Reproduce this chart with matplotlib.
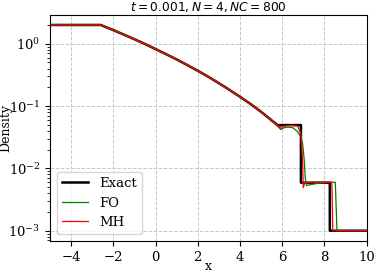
import matplotlib
matplotlib.use('Agg')
import matplotlib.pyplot as plt

plt.rcParams['font.family'] = 'serif'
plt.rcParams['font.size'] = 9.5

# rarefaction fan (shared by all three curves)
rare_x = [-5, -2.6, -2, -1.5, -1, -0.5, 0, 0.5, 1, 1.5, 2, 2.5, 3, 3.5, 4, 4.5, 5, 5.5]
rare_rho = [2.0, 2.0, 1.65, 1.40, 1.18, 0.99, 0.82, 0.68, 0.56, 0.455, 0.368, 0.295,
            0.233, 0.182, 0.141, 0.108, 0.081, 0.059]

# exact solution past the fan
exact_x = [5.86, 5.86, 6.89, 6.89, 8.26, 8.26, 10]
exact_rho = [0.047, 0.0495, 0.0495, 0.0059, 0.0059, 0.001, 0.001]

# first order scheme
fo_x = [5.94, 6.1, 6.26, 6.5, 6.73, 6.89, 6.97, 7.05, 7.09, 7.15, 7.6, 8.2, 8.52, 8.6, 10]
fo_rho = [0.042, 0.045, 0.046, 0.045, 0.039, 0.032, 0.025, 0.0134, 0.0072, 0.0053,
          0.0057, 0.006, 0.006, 0.001, 0.001]

# MH scheme
mh_x = [5.94, 6.1, 6.4, 6.73, 6.89, 6.97, 7.0, 7.07, 7.5, 8.36, 8.40, 10]
mh_rho = [0.0437, 0.048, 0.049, 0.048, 0.036, 0.0135, 0.0049, 0.0059, 0.006, 0.006,
          0.001, 0.001]

x_ticks = [-4, -2, 0, 2, 4, 6, 8, 10]

fig = plt.figure(figsize=(3.74, 2.72), dpi=100)
ax = fig.add_axes([0.134, 0.114, 0.846, 0.832])

ax.plot(rare_x + exact_x, rare_rho + exact_rho, color='k', lw=1.8, label='Exact')
ax.plot(rare_x + fo_x, rare_rho + fo_rho, color='g', lw=0.9, label='FO')
ax.plot(rare_x + mh_x, rare_rho + mh_rho, color='r', lw=0.9, label='MH')

ax.set_yscale('log')
ax.set_xlim(-5, 10)
ax.set_xticks(x_ticks)
ax.set_xlabel('x', fontsize=9)
ax.set_ylabel('Density', fontsize=9)
ax.xaxis.set_label_coords(0.5, -0.082)
ax.yaxis.set_label_coords(-0.12, 0.5)
ax.set_title('$t = 0.001, N = 4, NC = 800$', fontsize=8.8, pad=3)
ax.grid(True, linestyle='--', color='#c8c8c8', lw=0.7)
ax.legend(loc='lower left')

plt.savefig('out.png')
